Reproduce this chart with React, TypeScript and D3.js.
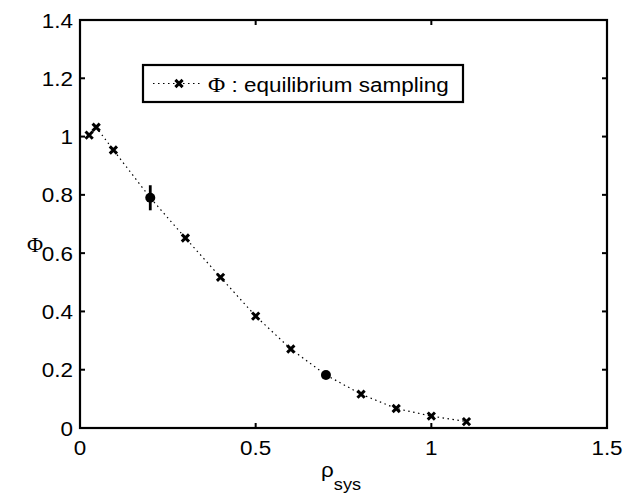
import React from "react";
import * as d3 from "d3";

const rhoCross = [0.026, 0.046, 0.095, 0.3, 0.4, 0.5, 0.6, 0.8, 0.9, 1.0, 1.1];
const phiCross = [1.005, 1.032, 0.954, 0.652, 0.517, 0.384, 0.271, 0.116, 0.067, 0.041, 0.022];
const rhoDot = [0.2, 0.7];
const phiDot = [0.79, 0.182];
const errDot = [0.043, 0.01];
const xTicks = [0, 0.5, 1, 1.5];
const yTicks = [0, 0.2, 0.4, 0.6, 0.8, 1, 1.2, 1.4];
const legendLabel = " : equilibrium sampling";

export default function App() {
  const W = 626, H = 495;
  const L = 80, R = 607, T = 20, B = 428;
  const x = d3.scaleLinear().domain([0, 1.5]).range([L, R]);
  const y = d3.scaleLinear().domain([0, 1.4]).range([B, T]);

  const all = [
    ...rhoCross.map((r, i) => ({ r, p: phiCross[i] })),
    ...rhoDot.map((r, i) => ({ r, p: phiDot[i] })),
  ].sort((a, b) => a.r - b.r);
  const line = d3.line<{ r: number; p: number }>().x(d => x(d.r)).y(d => y(d.p));

  const font = "'Liberation Sans', Arial, sans-serif";
  const serif = "'Liberation Serif', 'Times New Roman', serif";
  const FS = 21, SX = 1.07;
  const cross = (cx: number, cy: number, k: string) => (
    <path key={k} d={`M${cx - 3.6},${cy - 3.6}L${cx + 3.6},${cy + 3.6}M${cx - 3.6},${cy + 3.6}L${cx + 3.6},${cy - 3.6}`} stroke="#000" strokeWidth={3} />
  );
  const txt = (tx: number, ty: number, s: string, anchor: string, k: string) => (
    <g key={k} transform={`translate(${tx},${ty}) scale(${SX},1)`}>
      <text x={0} y={0} fontSize={FS} textAnchor={anchor}>{s}</text>
    </g>
  );

  return (
    <svg width={W} height={H} style={{ position: "absolute", left: 0, top: 0, background: "#fff" }} fontFamily={font}>
      <rect x={0} y={0} width={W} height={H} fill="#fff" />
      <path d={line(all) || ""} fill="none" stroke="#000" strokeWidth={1.2} strokeDasharray="1.5,3.5" />
      {rhoCross.map((r, i) => cross(x(r), y(phiCross[i]), "c" + i))}
      {rhoDot.map((r, i) => (
        <g key={"d" + i}>
          <line x1={x(r)} x2={x(r)} y1={y(phiDot[i] - errDot[i])} y2={y(phiDot[i] + errDot[i])} stroke="#000" strokeWidth={2.8} />
          <circle cx={x(r)} cy={y(phiDot[i])} r={5} fill="#000" />
        </g>
      ))}
      <rect x={L} y={T} width={R - L} height={B - T} fill="none" stroke="#000" strokeWidth={2.2} />
      {xTicks.map((t, i) => (
        <g key={"xt" + i}>
          <line x1={x(t)} x2={x(t)} y1={B} y2={B - 5} stroke="#000" strokeWidth={2} />
          <line x1={x(t)} x2={x(t)} y1={T} y2={T + 5} stroke="#000" strokeWidth={2} />
          {txt(x(t), B + 27, String(t), "middle", "xl" + i)}
        </g>
      ))}
      {yTicks.map((t, i) => (
        <g key={"yt" + i}>
          <line x1={L} x2={L + 5} y1={y(t)} y2={y(t)} stroke="#000" strokeWidth={2} />
          <line x1={R} x2={R - 5} y1={y(t)} y2={y(t)} stroke="#000" strokeWidth={2} />
          {txt(L - 7, y(t) + 7.5, String(t), "end", "yl" + i)}
        </g>
      ))}
      <g transform={`translate(321,477) scale(${SX},1)`}>
        <text x={0} y={0} fontSize={FS}>
          ρ<tspan fontSize={17} dy={13}>sys</tspan>
        </text>
      </g>
      <text x={35} y={252} fontSize={22} fontFamily={serif} textAnchor="middle">Φ</text>
      <rect x={143} y={65} width={320} height={37} fill="#fff" stroke="#000" strokeWidth={2.2} />
      <line x1={153} x2={200} y1={83.5} y2={83.5} stroke="#000" strokeWidth={1.2} strokeDasharray="1.5,3.5" />
      {cross(179, 83.5, "lg")}
      <g transform={`translate(208,92) scale(${SX},1)`}>
        <text x={0} y={0} fontSize={FS}>
          <tspan fontFamily={serif} fontSize={22}>Φ</tspan>{legendLabel}
        </text>
      </g>
    </svg>
  );
}
